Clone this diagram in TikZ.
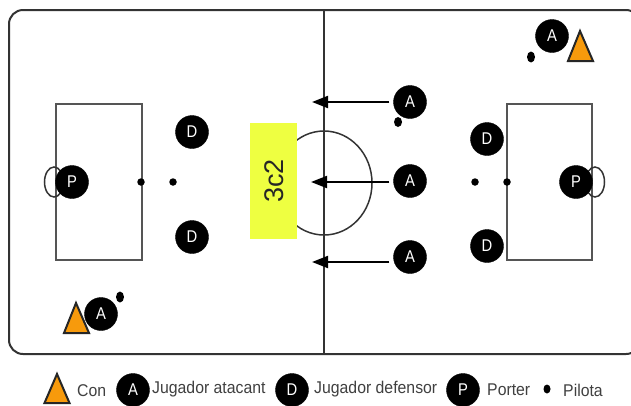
\documentclass[tikz,border=0pt]{standalone}
\usepackage{fontspec}
\setmainfont{Liberation Sans}
\newfontfamily\narrowf[FakeStretch=0.87]{Liberation Sans}
\newfontfamily\legendf[FakeStretch=0.93]{Liberation Sans}
\usetikzlibrary{arrows.meta}
\definecolor{lineg}{HTML}{333333}
\definecolor{boxg}{HTML}{555555}
\definecolor{cone}{HTML}{F79A0C}
\definecolor{yel}{HTML}{EEFF41}
\definecolor{legt}{HTML}{404040}
\tikzset{
  player/.style={circle,fill=black,draw=black,inner sep=0pt,minimum size=33pt,text=white,font=\narrowf\fontsize{17}{17}\selectfont},
  ball/.style={circle,fill=black,inner sep=0pt,minimum size=7.5pt},
  conemark/.style={draw=black!85,line width=2pt,fill=cone,line join=miter},
  fieldline/.style={draw=lineg,line width=2pt},
  boxline/.style={draw=boxg,line width=2pt},
  thinc/.style={draw=lineg,line width=1.5pt},
  runarrow/.style={draw=black,line width=2pt,-{Triangle[length=16pt,width=12pt]}},
  legendtext/.style={anchor=west,inner sep=0pt,text=legt,font=\legendf\fontsize{17}{17}\selectfont}
}
\begin{document}
\begin{tikzpicture}[x=1pt,y=-1pt]
\useasboundingbox (0,0) rectangle (631,405);
\fill[white] (0,0) rectangle (631,405);
% field
\draw[fieldline,rounded corners=14pt] (9,10) rectangle (640,354);
\draw[fieldline] (324,10) -- (324,354);
\draw[boxline] (56,104) rectangle (142,260);
\draw[boxline] (507,104) rectangle (592,260);
\draw[thinc] (324,183) ellipse [x radius=48,y radius=52];
\draw[thinc] (54,182) ellipse [x radius=9.5,y radius=15];
\draw[thinc] (595,182) ellipse [x radius=9.5,y radius=15];
% yellow panel
\node[fill=yel,minimum width=47pt,minimum height=116pt,inner sep=0pt] (panel) at (273,181) {};
\node[rotate=90,font=\fontsize{27}{27}\selectfont,text=black!85] (lab) at (274,181) {3c2};
% cones
\draw[conemark] (76,303) -- (89,333) -- (64,333) -- cycle;
\draw[conemark] (580,31) -- (593,61) -- (568,61) -- cycle;
% players
\node[player] (dl1) at (192,132) {D};
\node[player] (dl2) at (192,237) {D};
\node[player] (dr1) at (487,139) {D};
\node[player] (dr2) at (487,246) {D};
\node[player] (pl) at (72,182) {P};
\node[player] (pr) at (576,182) {P};
\node[player] (a1) at (410,102) {A};
\node[player] (a2) at (410,181) {A};
\node[player] (a3) at (410,257) {A};
\node[player] (a4) at (552,36) {A};
\node[player] (a5) at (101,314) {A};
% balls
\node[ball] (b1) at (141,182) {};
\node[ball] (b2) at (173,182) {};
\node[ball] (b3) at (475,182) {};
\node[ball] (b4) at (507,182) {};
\fill[black] (398,122) ellipse [x radius=4,y radius=5];
\fill[black] (120,297) ellipse [x radius=4,y radius=5.5];
\fill[black] (531,57) ellipse [x radius=4,y radius=5.5];
% arrows
\coordinate (t1) at (312,102);
\coordinate (t2) at (311,182);
\coordinate (t3) at (312,262);
\draw[runarrow,shorten <=4pt] (a1) -- (t1);
\draw[runarrow,shorten <=4pt] (a2.west |- t2) -- (t2);
\draw[runarrow,shorten <=4pt] (a3.west |- t3) -- (t3);
% legend
\draw[conemark] (57,374) -- (69.5,403) -- (44.5,403) -- cycle;
\node[legendtext] (lcon) at (77,391) {Con};
\node[player] (la) at (133,390) {A};
\node[legendtext] (lja) at (152,389) {Jugador atacant};
\node[player] (ld) at (292,390) {D};
\node[legendtext] (ljd) at (314,389) {Jugador defensor};
\node[player] (lp) at (463,390) {P};
\node[legendtext] (lpo) at (487,390) {Porter};
\fill[black] (547,389) ellipse [x radius=3.5,y radius=4.5];
\node[legendtext] (lpi) at (563,390) {Pilota};
\end{tikzpicture}
\end{document}
